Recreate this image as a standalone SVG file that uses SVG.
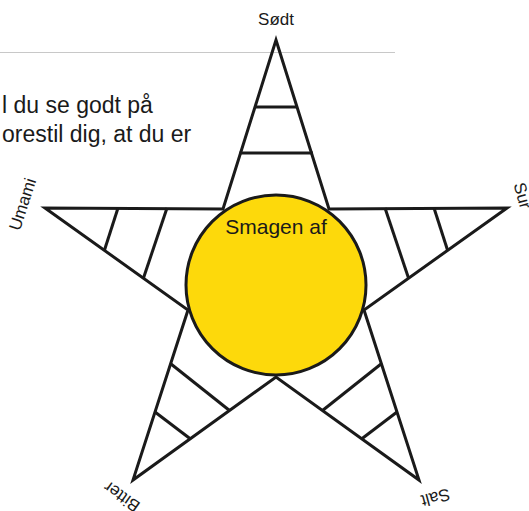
<svg xmlns="http://www.w3.org/2000/svg" width="529" height="511" viewBox="0 0 529 511">
  <style>
    .ln { stroke: #1a1a1a; stroke-width: 3; fill: none; }
    .lbl { font-family: "Liberation Sans", Arial, sans-serif; font-size: 17px; fill: #1a1a1a; text-anchor: middle; }
    .body { font-family: "Liberation Sans", Arial, sans-serif; font-size: 23px; fill: #1a1a1a; }
  </style>
  <rect width="529" height="511" fill="#ffffff"/>
  <g id="header">
    <line x1="0" y1="52.5" x2="395" y2="52.5" stroke="#c8c8c8" stroke-width="1"/>
    <text class="body" x="2" y="113">l du se godt på</text>
    <text class="body" x="2" y="142">orestil dig, at du er</text>
  </g>
  <g id="star">
    <polygon class="ln" stroke-linejoin="miter" stroke-miterlimit="10" points="276,40 329,209 507,208 364,310 419,480 276,377 133,480 188,310 45,208 223,209"/>
  </g>
  <g id="connectors">
    <line class="ln" x1="254" y1="107" x2="298" y2="107"/>
    <line class="ln" x1="239.5" y1="153" x2="313" y2="153"/>
    <line class="ln" x1="118" y1="208" x2="104.5" y2="250"/>
    <line class="ln" x1="167" y1="208" x2="143.5" y2="278"/>
    <line class="ln" x1="434" y1="208" x2="447.5" y2="250"/>
    <line class="ln" x1="385" y1="208" x2="408.5" y2="278"/>
    <line class="ln" x1="155" y1="412" x2="190.5" y2="439"/>
    <line class="ln" x1="171" y1="364" x2="229.5" y2="410.5"/>
    <line class="ln" x1="397" y1="412" x2="361.5" y2="439"/>
    <line class="ln" x1="381" y1="364" x2="322.5" y2="410.5"/>
  </g>
  <g id="center">
    <circle cx="276" cy="285" r="90" fill="#fdd90b" stroke="#1a1a1a" stroke-width="3"/>
    <text x="276" y="234" font-family="Liberation Sans, Arial, sans-serif" font-size="21" fill="#1a1a1a" text-anchor="middle">Smagen af</text>
  </g>
  <g id="label-sodt"><text class="lbl" x="276" y="25" font-size="18">Sødt</text></g>
  <g id="label-umami"><text class="lbl" transform="translate(28,206) rotate(-72)">Umami</text></g>
  <g id="label-sur"><text class="lbl" transform="translate(517,197) rotate(75)">Sur</text></g>
  <g id="label-bitter"><text class="lbl" transform="translate(125,492) rotate(-145)">Bitter</text></g>
  <g id="label-salt"><text class="lbl" transform="translate(434,492) rotate(165)">Salt</text></g>
</svg>
